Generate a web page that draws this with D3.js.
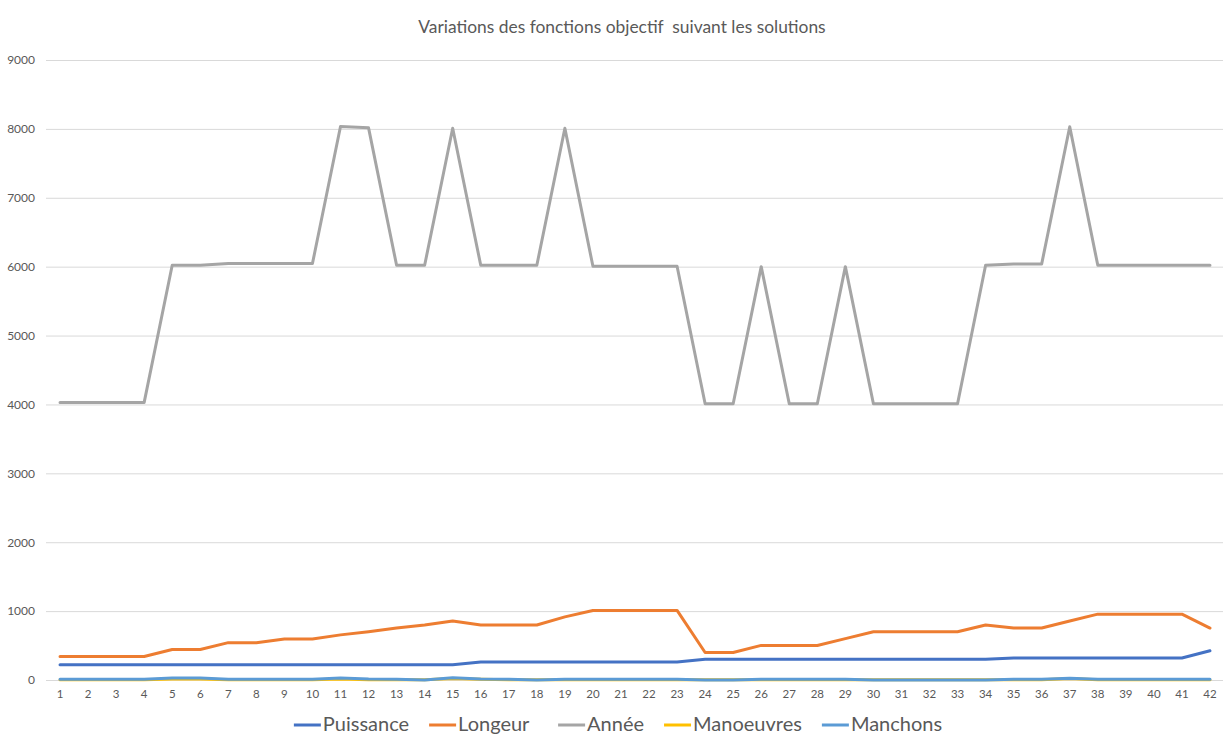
<!DOCTYPE html>
<html>
<head>
<meta charset="utf-8">
<script src="https://cdn.jsdelivr.net/npm/d3@7"></script>
<style>
  html, body { margin: 0; padding: 0; background: #fff; }
  svg { display: block; font-family: Lato, "Open Sans", "Noto Sans", sans-serif; }
</style>
</head>
<body>
<svg id="chart" width="1223" height="735"></svg>
<script>
// Solution numbers 1..42
const solutions = d3.range(1, 43).map(String);

const seriesNames = ["Puissance", "Longeur", "Année", "Manoeuvres", "Manchons"];
const seriesColors = ["#4472C4", "#ED7D31", "#A5A5A5", "#FFC000", "#5B9BD5"];

const puissance = [
  222, 222, 222, 222, 222, 222, 222, 222, 222, 222,
  222, 222, 222, 222, 222, 261, 261, 261, 261, 261,
  261, 261, 261, 300, 300, 300, 300, 300, 300, 300,
  300, 300, 300, 300, 320, 320, 320, 320, 320, 320,
  320, 424
];
const longeur = [
  340, 340, 340, 340, 443, 443, 542, 542, 596, 596,
  655, 700, 754, 798, 857, 798, 798, 798, 916, 1010,
  1010, 1010, 1010, 399, 399, 502, 502, 502, 601, 700,
  700, 700, 700, 798, 754, 754, 857, 956, 956, 956,
  956, 754
];
const annee = [
  4030, 4030, 4030, 4030, 6020, 6020, 6045, 6045, 6045, 6045,
  8035, 8015, 6020, 6020, 8010, 6020, 6020, 6020, 8010, 6005,
  6005, 6005, 6005, 4010, 4010, 6000, 4010, 4010, 6000, 4010,
  4010, 4010, 4010, 6020, 6040, 6040, 8030, 6020, 6020, 6020,
  6020, 6020
];
const manoeuvres = [
  5, 5, 5, 5, 15, 15, 5, 5, 5, 5,
  15, 5, 5, 5, 20, 10, 5, 5, 5, 5,
  5, 5, 5, 5, 5, 5, 5, 5, 5, 5,
  5, 5, 5, 5, 5, 5, 20, 5, 5, 5,
  5, 5
];
const manchons = [
  10, 10, 10, 10, 30, 30, 10, 10, 10, 10,
  30, 15, 10, 0, 32, 15, 10, 0, 10, 10,
  10, 10, 10, 0, 0, 10, 10, 10, 10, 0,
  0, 0, 0, 0, 10, 10, 25, 10, 10, 10,
  10, 10
];
const yTicks = [0, 1000, 2000, 3000, 4000, 5000, 6000, 7000, 8000, 9000];

const chartTitle = "Variations des fonctions objectif\u00a0 suivant les solutions";

const seriesValues = [puissance, longeur, annee, manoeuvres, manchons];

const svg = d3.select("#chart");
const W = 1223, H = 735;
const margin = { top: 60, right: -1, bottom: 55, left: 46 };
const plotW = W - margin.left - margin.right;
const plotH = H - margin.top - margin.bottom;

const x = d3.scaleBand().domain(solutions).range([margin.left, margin.left + plotW]);
const y = d3.scaleLinear().domain([0, 9000]).range([margin.top + plotH, margin.top]);

// Title
svg.append("text")
  .attr("x", 622).attr("y", 29)
  .attr("text-anchor", "middle").attr("dominant-baseline", "middle")
  .attr("font-size", 17.4).attr("fill", "#595959")
  .text(chartTitle);

// Horizontal gridlines with value labels
const yAxis = d3.axisLeft(y).tickValues(yTicks).tickSize(-plotW).tickPadding(11)
  .tickFormat(d3.format("d"));
const gy = svg.append("g").attr("transform", `translate(${margin.left},0)`).call(yAxis);
gy.select(".domain").remove();
gy.selectAll(".tick line").attr("stroke", "#d9d9d9").attr("stroke-width", 1);
gy.selectAll(".tick text").attr("fill", "#595959").attr("font-size", 12)
  .attr("font-family", "Lato, 'Open Sans', sans-serif");

// Category labels
const xAxis = d3.axisBottom(x).tickSize(0).tickPadding(10);
const gx = svg.append("g").attr("transform", `translate(0,${margin.top + plotH})`).call(xAxis);
gx.select(".domain").remove();
gx.selectAll(".tick text").attr("fill", "#595959").attr("font-size", 11.5)
  .attr("font-family", "Lato, 'Open Sans', sans-serif");

// Series lines
const line = d3.line()
  .x((d, i) => x(solutions[i]) + x.bandwidth() / 2)
  .y(d => y(d));

svg.append("g").selectAll("path")
  .data(seriesValues)
  .join("path")
  .attr("d", d => line(d))
  .attr("fill", "none")
  .attr("stroke", (d, i) => seriesColors[i])
  .attr("stroke-width", 3)
  .attr("stroke-linejoin", "round")
  .attr("stroke-linecap", "round");

// Legend
const legend = svg.append("g");
const legendY = 725;
const items = legend.selectAll("g").data(seriesNames).join("g");
items.append("line")
  .attr("x1", 0).attr("x2", 27).attr("y1", legendY).attr("y2", legendY)
  .attr("stroke", (d, i) => seriesColors[i]).attr("stroke-width", 3);
items.append("text")
  .attr("x", 29).attr("y", legendY + 1)
  .attr("dominant-baseline", "middle")
  .attr("font-size", 20).attr("fill", "#595959")
  .text(d => d);

const gaps = [20, 28, 20, 20];
let offset = 0;
const widths = [];
items.each(function () { widths.push(this.getBBox().width); });
const total = d3.sum(widths) + d3.sum(gaps);
let start = 618 - total / 2;
items.attr("transform", (d, i) => {
  const tx = start + offset;
  offset += widths[i] + (gaps[i] || 0);
  return `translate(${tx},0)`;
});
</script>
</body>
</html>
